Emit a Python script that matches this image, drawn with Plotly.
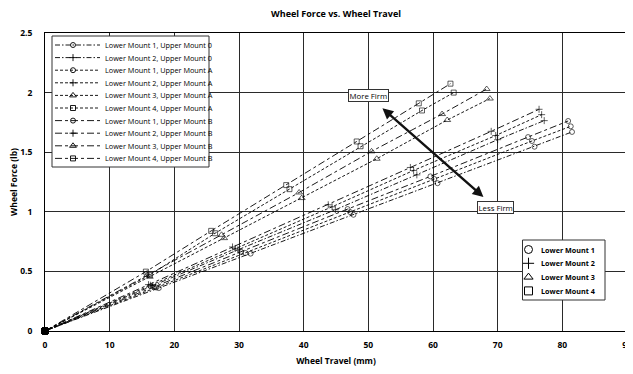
import plotly.graph_objects as go

# ---------------- data ----------------
x_lm1_u0 = [0, 17.6, 31.8, 47.7, 60.7, 75.7, 81.5]
y_lm1_u0 = [0, 0.360, 0.649, 0.975, 1.240, 1.546, 1.670]
x_lm2_u0 = [0, 16.6, 29.8, 44.9, 57.5, 70.0, 77.2]
y_lm2_u0 = [0, 0.378, 0.680, 1.017, 1.310, 1.605, 1.765]
x_lm1_ua = [0, 17.2, 31.0, 47.2, 60.2, 75.3, 81.3]
y_lm1_ua = [0, 0.365, 0.654, 0.997, 1.275, 1.594, 1.717]
x_lm2_ua = [0, 16.3, 29.4, 44.4, 57.0, 69.7, 76.8]
y_lm2_ua = [0, 0.384, 0.693, 1.042, 1.347, 1.640, 1.815]
x_lm3_ua = [0, 16.2, 27.7, 39.7, 51.3, 62.2, 68.8]
y_lm3_ua = [0, 0.455, 0.779, 1.115, 1.445, 1.770, 1.950]
x_lm4_ua = [0, 16.2, 26.3, 37.8, 48.8, 58.3, 63.2]
y_lm4_ua = [0, 0.470, 0.820, 1.190, 1.550, 1.850, 2.000]
x_lm1_ub = [0, 16.8, 30.3, 46.8, 59.6, 74.7, 80.9]
y_lm1_ub = [0, 0.370, 0.665, 1.023, 1.297, 1.627, 1.762]
x_lm2_ub = [0, 16.0, 29.0, 43.8, 56.5, 69.0, 76.4]
y_lm2_ub = [0, 0.389, 0.705, 1.059, 1.372, 1.675, 1.860]
x_lm3_ub = [0, 15.8, 27.3, 39.3, 50.5, 61.4, 68.3]
y_lm3_ub = [0, 0.470, 0.807, 1.162, 1.507, 1.820, 2.030]
x_lm4_ub = [0, 15.6, 25.7, 37.3, 48.2, 57.8, 62.7]
y_lm4_ub = [0, 0.498, 0.840, 1.224, 1.590, 1.910, 2.075]

series_names = [
    "Lower Mount 1, Upper Mount 0", "Lower Mount 2, Upper Mount 0",
    "Lower Mount 1, Upper Mount A", "Lower Mount 2, Upper Mount A",
    "Lower Mount 3, Upper Mount A", "Lower Mount 4, Upper Mount A",
    "Lower Mount 1, Upper Mount B", "Lower Mount 2, Upper Mount B",
    "Lower Mount 3, Upper Mount B", "Lower Mount 4, Upper Mount B",
]
series_x = [x_lm1_u0, x_lm2_u0, x_lm1_ua, x_lm2_ua, x_lm3_ua, x_lm4_ua,
            x_lm1_ub, x_lm2_ub, x_lm3_ub, x_lm4_ub]
series_y = [y_lm1_u0, y_lm2_u0, y_lm1_ua, y_lm2_ua, y_lm3_ua, y_lm4_ua,
            y_lm1_ub, y_lm2_ub, y_lm3_ub, y_lm4_ub]
series_mount = [1, 2, 1, 2, 3, 4, 1, 2, 3, 4]
series_upper = ["0", "0", "A", "A", "A", "A", "B", "B", "B", "B"]

mount_names = ["Lower Mount 1", "Lower Mount 2", "Lower Mount 3", "Lower Mount 4"]

x_ticks = [0, 10, 20, 30, 40, 50, 60, 70, 80, 90]
y_ticks = [0, 0.5, 1, 1.5, 2, 2.5]

title_text = "Wheel Force vs. Wheel Travel"
x_title = "Wheel Travel (mm)"
y_title = "Wheel Force (lb)"
more_label = "More Firm"
less_label = "Less Firm"

# ---------------- styles ----------------
FONT = "Open Sans"
SYM = {1: "circle-open", 2: "cross-thin-open", 3: "triangle-up-open", 4: "square-open"}
MSIZE = {1: 5, 2: 5, 3: 6, 4: 5}
DASH = {"0": "5px,2px,1.5px,2px", "A": "3px,2px", "B": "7px,3px,3px,3px"}

OFF = 8                      # page body margin
W, H = 625, 366
ML, MR, MT, MB = 37, 6, 25, 43
PW, PH = W - ML - MR, H - MT - MB


def PX(px):
    return (px - OFF - ML) / PW


def PY(py):
    return (H - MB - (py - OFF)) / PH


fig = go.Figure()

for name, xs, ys, m, u in zip(series_names, series_x, series_y, series_mount, series_upper):
    syms = ["square"] + [SYM[m]] * (len(xs) - 1)
    sizes = [6] + [MSIZE[m]] * (len(xs) - 1)
    fig.add_trace(go.Scatter(
        x=xs, y=ys, mode="lines+markers", name=name, showlegend=False,
        line=dict(color="black", width=0.9, dash=DASH[u]),
        marker=dict(symbol=syms, size=sizes, color="black",
                    line=dict(color="black", width=0.9)),
        cliponaxis=False,
    ))

# ---------------- legend 1 (series) drawn in an overlay frame ----------------
ann = []
bx0, bx1, by0, by1 = PX(52), PX(209), PY(167), PY(36)
fig.add_trace(go.Scatter(x=[bx0, bx1, bx1, bx0, bx0], y=[by0, by0, by1, by1, by0],
                         mode="lines", fill="toself", fillcolor="white",
                         line=dict(color="#333", width=1), xaxis="x2", yaxis="y2",
                         showlegend=False, hoverinfo="skip"))
for i, (name, m, u) in enumerate(zip(series_names, series_mount, series_upper)):
    ry = PY(45 + 12.6 * i)
    fig.add_trace(go.Scatter(x=[PX(55), PX(100)], y=[ry, ry], mode="lines",
                             line=dict(color="black", width=0.9, dash=DASH[u]),
                             xaxis="x2", yaxis="y2", showlegend=False, hoverinfo="skip"))
    fig.add_trace(go.Scatter(x=[PX(73)], y=[ry], mode="markers",
                             marker=dict(symbol=SYM[m], size=MSIZE[m], color="black",
                                         line=dict(color="black", width=0.9)),
                             xaxis="x2", yaxis="y2", showlegend=False, hoverinfo="skip"))
    ann.append(dict(x=PX(103), y=ry, xref="paper", yref="paper", text=name,
                    showarrow=False, xanchor="left", yanchor="middle",
                    font=dict(family=FONT, size=7.3, color="black")))

# ---------------- legend 2 (markers) ----------------
cx0, cx1, cy0, cy1 = PX(522.5), PX(605), PY(300), PY(240)
fig.add_trace(go.Scatter(x=[cx0, cx1, cx1, cx0, cx0], y=[cy0, cy0, cy1, cy1, cy0],
                         mode="lines", fill="toself", fillcolor="white",
                         line=dict(color="#333", width=1), xaxis="x2", yaxis="y2",
                         showlegend=False, hoverinfo="skip"))
for j, mname in enumerate(mount_names):
    ry = PY(249.5 + 13.8 * j)
    fig.add_trace(go.Scatter(x=[PX(528.5)], y=[ry], mode="markers",
                             marker=dict(symbol=SYM[j + 1], size=8, color="black",
                                         line=dict(color="black", width=1)),
                             xaxis="x2", yaxis="y2", showlegend=False, hoverinfo="skip"))
    ann.append(dict(x=PX(539), y=ry, xref="paper", yref="paper", text=mname,
                    showarrow=False, xanchor="left", yanchor="middle",
                    font=dict(family=FONT, size=7.2, color="black", weight="bold")))

# ---------------- firmness arrow ----------------
ann.append(dict(x=67.8, y=1.124, ax=51.95, ay=1.88, xref="x", yref="y", axref="x", ayref="y",
                text="", showarrow=True, arrowhead=2, startarrowhead=2, arrowside="end+start",
                arrowwidth=2.4, arrowsize=0.9, startarrowsize=0.9, arrowcolor="#111",
                standoff=0, startstandoff=0))
ann.append(dict(x=50.0, y=1.977, xref="x", yref="y", text=more_label, showarrow=False,
                bgcolor="white", bordercolor="#333", borderwidth=1, borderpad=0.5,
                font=dict(family=FONT, size=7.8, color="black")))
ann.append(dict(x=69.74, y=1.034, xref="x", yref="y", text=less_label, showarrow=False,
                bgcolor="white", bordercolor="#333", borderwidth=1, borderpad=0.5,
                font=dict(family=FONT, size=7.8, color="black")))

fig.update_layout(
    width=W, height=H,
    margin=dict(l=ML, r=MR, t=MT, b=MB, autoexpand=False),
    paper_bgcolor="white", plot_bgcolor="white",
    font=dict(family=FONT, color="black"),
    title=dict(text=title_text, x=(336 - OFF) / W, xref="container", xanchor="center",
               y=1 - (14 - OFF) / H, yref="container", yanchor="middle",
               font=dict(family=FONT, size=9, weight="bold", color="black")),
    xaxis=dict(range=[0, 90], tickvals=x_ticks, ticktext=[str(v) for v in x_ticks],
               showgrid=True, gridcolor="#2a2a2a", gridwidth=1, zeroline=False,
               showline=True, linecolor="black", linewidth=1, mirror=True,
               ticks="", ticklabelstandoff=6, automargin=False, ticklabeloverflow="allow",
               tickfont=dict(family=FONT, size=8.5, weight="bold", color="black"),
               title=dict(text=x_title, standoff=8,
                          font=dict(family=FONT, size=8.5, weight="bold", color="black"))),
    yaxis=dict(range=[0, 2.5], tickvals=y_ticks, ticktext=["0", "0.5", "1", "1.5", "2", "2.5"],
               showgrid=True, gridcolor="#2a2a2a", gridwidth=1, zeroline=False,
               showline=True, linecolor="black", linewidth=1, mirror=True,
               ticks="", ticklabelstandoff=10, automargin=False,
               tickfont=dict(family=FONT, size=8.5, weight="bold", color="black"),
               title=dict(text=y_title, standoff=6,
                          font=dict(family=FONT, size=8.5, weight="bold", color="black"))),
    xaxis2=dict(range=[0, 1], overlaying="x", visible=False, fixedrange=True),
    yaxis2=dict(range=[0, 1], overlaying="y", visible=False, fixedrange=True),
    annotations=ann,
    showlegend=False,
)

fig.write_html("out.html")
